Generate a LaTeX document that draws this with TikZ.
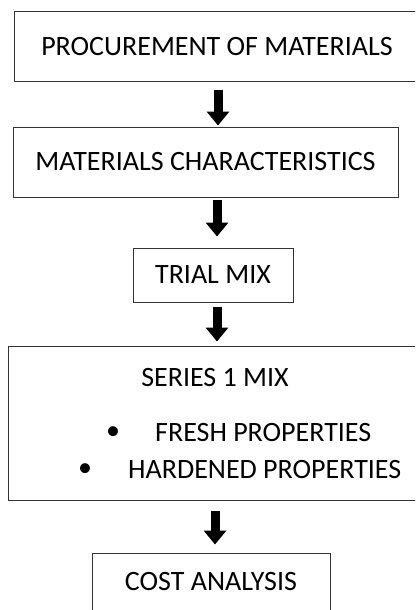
\documentclass[tikz,border=0pt]{standalone}
\usepackage{fontspec}
\setmainfont{Carlito}
\usepackage{tikz}
\usetikzlibrary{positioning, calc, arrows.meta}
\tikzset{
    stagebox/.style={
        draw=black!80, line width=1pt, fill=white, anchor=center,
        font=\fontsize{28}{32}\selectfont, inner sep=0pt
    },
    itemtext/.style={
        font=\fontsize{28}{32}\selectfont, inner sep=0pt
    },
    bigarrow/.style={
        -{Triangle[width=22pt, length=14pt]}, line width=9pt, black
    }
}

\begin{document}
\begin{tikzpicture}[x=1pt, y=-1pt]
                \useasboundingbox (0,0) rectangle (415,610);
                \clip (0,0) rectangle (415,610);
                \node[stagebox, minimum width=416pt, minimum height=69pt] (proc) at (222,46.5) {};
                \node[itemtext] (proctxt) at (217,47) {PROCUREMENT OF MATERIALS};
                \node[stagebox, minimum width=385pt, minimum height=70pt] (charac) at (205.5,162) {MATERIALS CHARACTERISTICS};
                \node[stagebox, minimum width=160pt, minimum height=54pt] (trial) at (213,275) {TRIAL MIX};
                \node[stagebox, minimum width=420pt, minimum height=154pt] (series) at (218,423) {};
                \node[itemtext] (sertxt) at (215,378) {SERIES 1 MIX};
                \node[itemtext, anchor=west] (fresh) at (155,433) {FRESH PROPERTIES};
                \node[itemtext, anchor=west] (hard) at (128,470) {HARDENED PROPERTIES};
                \node[itemtext] (bulfresh) at (113,433) {\textbullet};
                \node[itemtext] (bulhard) at (85,470) {\textbullet};
                \node[stagebox, minimum width=238pt, minimum height=70pt] (cost) at (211,588) {};
                \node[itemtext] (costtxt) at (211,582) {COST ANALYSIS};
                % arrows between stages
                \draw[bigarrow] ([xshift=-4pt, yshift=-8pt]proc.south) -- ([xshift=12.5pt, yshift=1pt]charac.north);
                \draw[bigarrow] ([xshift=11.5pt, yshift=-2pt]charac.south) -- ([xshift=4pt, yshift=11pt]trial.north);
                \draw[bigarrow] ([xshift=4pt, yshift=-4pt]trial.south) -- ([xshift=-1pt, yshift=4pt]series.north);
                \draw[bigarrow] ([xshift=-3pt, yshift=-10pt]series.south) -- ([xshift=4pt, yshift=8pt]cost.north);
            \end{tikzpicture}
\end{document}
